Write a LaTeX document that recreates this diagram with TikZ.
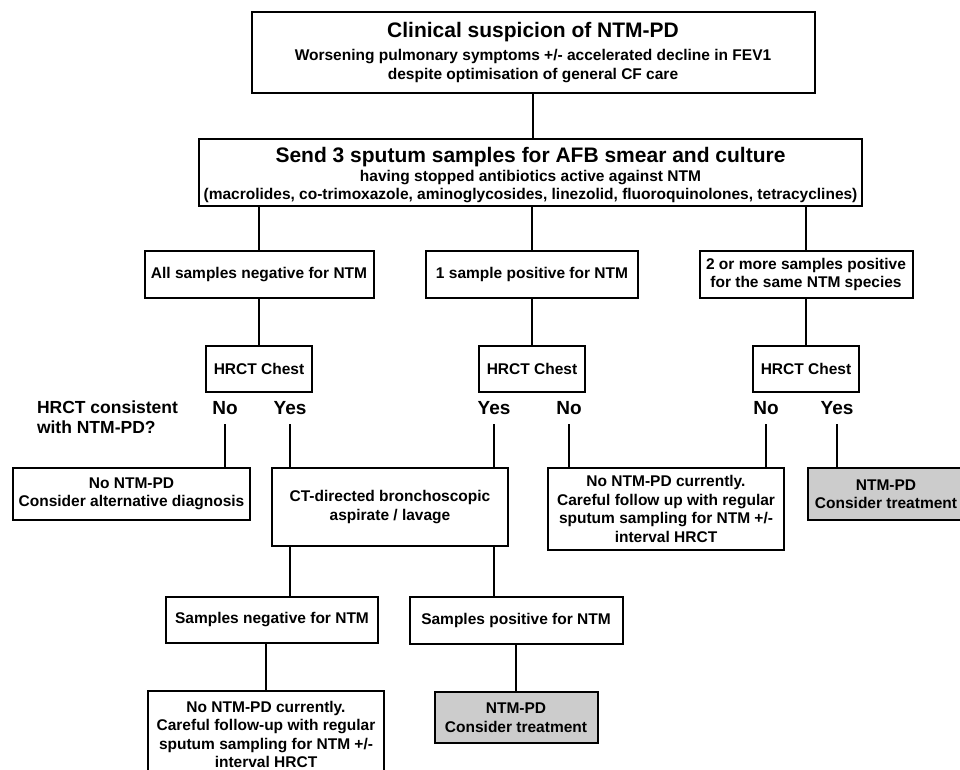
\documentclass[tikz,border=0pt]{standalone}
\usepackage{fontspec}
\setmainfont{Liberation Sans}
\usetikzlibrary{positioning,calc}

\begin{document}
\begin{tikzpicture}[x=1pt, y=-1pt, line width=2pt,
    box/.style={draw, align=center, inner sep=0pt, font=\fontsize{15.5}{18.5}\selectfont\bfseries},
    result/.style={box, fill=gray!40},
    answer/.style={inner xsep=0pt, inner ysep=9pt, text height=14pt, text depth=0pt, font=\fontsize{19}{22}\selectfont\bfseries}]

    % Frame
    \useasboundingbox (0,0) rectangle (960,770);
    \clip (0,0) rectangle (960,770);

    % Suspicion + sputum
    \node[box, minimum width=563pt, minimum height=81pt] (susp) at (533,52.5)
        {{\fontsize{21}{24}\selectfont Clinical suspicion of NTM-PD}\\[5pt]
         \fontsize{15.5}{18}\selectfont Worsening pulmonary symptoms +/- accelerated decline in FEV1\\
         \fontsize{15.5}{18}\selectfont despite optimisation of general CF care};
    \node[box, minimum width=663pt, minimum height=67pt] (send) at (530.5,172.5)
        {{\fontsize{21}{24}\selectfont\rule{0pt}{21pt}Send 3 sputum samples for AFB smear and culture}\\[0pt]
         \fontsize{15.5}{19.5}\selectfont having stopped antibiotics active against NTM\\
         \fontsize{15.5}{19.5}\selectfont (macrolides, co-trimoxazole, aminoglycosides, linezolid, fluoroquinolones, tetracyclines)};
    \draw (susp.south) -- (susp.south |- send.north);

    % Culture results
    \node[box, minimum width=229pt, minimum height=47pt] (allneg) at (259,274.5) {All samples negative for NTM};
    \node[box, minimum width=212pt, minimum height=47pt] (onepos) at (532,274.5) {1 sample positive for NTM};
    \node[box, minimum width=213pt, minimum height=47pt] (twopos) at (806,274.5) {2 or more samples positive\\for the same NTM species};
    \foreach \n in {allneg, onepos, twopos}
        \draw (send.south -| \n.north) -- (\n.north);

    % HRCT
    \node[box, minimum width=106pt, minimum height=46pt] (hrctA) at (259,369) {HRCT Chest};
    \node[box, minimum width=106pt, minimum height=46pt] (hrctB) at (532,369) {HRCT Chest};
    \node[box, minimum width=106pt, minimum height=46pt] (hrctC) at (806,369) {HRCT Chest};
    \draw (allneg.south) -- (allneg.south |- hrctA.north);
    \draw (onepos.south) -- (onepos.south |- hrctB.north);
    \draw (twopos.south) -- (twopos.south |- hrctC.north);

    \node[anchor=west, align=left, inner sep=0pt, font=\fontsize{17.5}{20}\selectfont\bfseries] (quest) at (36,417)
        {HRCT consistent\\with NTM-PD?};
    \node[answer] (noA) at (225,407) {No};
    \node[answer] (yesA) at (290,407) {Yes};
    \node[answer] (yesB) at (494,407) {Yes};
    \node[answer] (noB) at (569,407) {No};
    \node[answer] (noC) at (766,407) {No};
    \node[answer] (yesC) at (837,407) {Yes};

    % Outcomes
    \node[box, minimum width=237pt, minimum height=52pt] (alt) at (131.5,494) {No NTM-PD\\Consider alternative diagnosis};
    \node[box, minimum width=236pt, minimum height=78pt] (bronch) at (390,507) {CT-directed bronchoscopic\\aspirate / lavage};
    \node[box, minimum width=236pt, minimum height=82pt] (watch) at (666,509)
        {No NTM-PD currently.\\Careful follow up with regular\\sputum sampling for NTM +/-\\interval HRCT};
    \node[result, minimum width=156pt, minimum height=52pt] (treat) at (886,494) {NTM-PD\\Consider treatment};
    \draw (noA.south) -- (noA.south |- alt.north);
    \draw (yesA.south) -- (yesA.south |- bronch.north);
    \draw (yesB.south) -- (yesB.south |- bronch.north);
    \draw (noB.south) -- (noB.south |- watch.north);
    \draw (noC.south) -- (noC.south |- watch.north);
    \draw (yesC.south) -- (yesC.south |- treat.north);

    % Bronchoscopy results
    \node[box, minimum width=212pt, minimum height=46pt] (sampneg) at (272,620) {Samples negative for NTM};
    \node[box, minimum width=213pt, minimum height=47pt] (samppos) at (516,620.5) {Samples positive for NTM};
    \draw (bronch.south -| yesA.south) -- (sampneg.north -| yesA.south);
    \draw (bronch.south -| yesB.south) -- (samppos.north -| yesB.south);

    \node[box, minimum width=236pt, minimum height=87pt] (watchb) at (266,734.5)
        {No NTM-PD currently.\\Careful follow-up with regular\\sputum sampling for NTM +/-\\interval HRCT};
    \node[result, minimum width=163pt, minimum height=51pt] (treatb) at (516,717.5) {NTM-PD\\Consider treatment};
    \draw (sampneg.south -| watchb.north) -- (watchb.north);
    \draw (samppos.south) -- (treatb.north);

\end{tikzpicture}
\end{document}
